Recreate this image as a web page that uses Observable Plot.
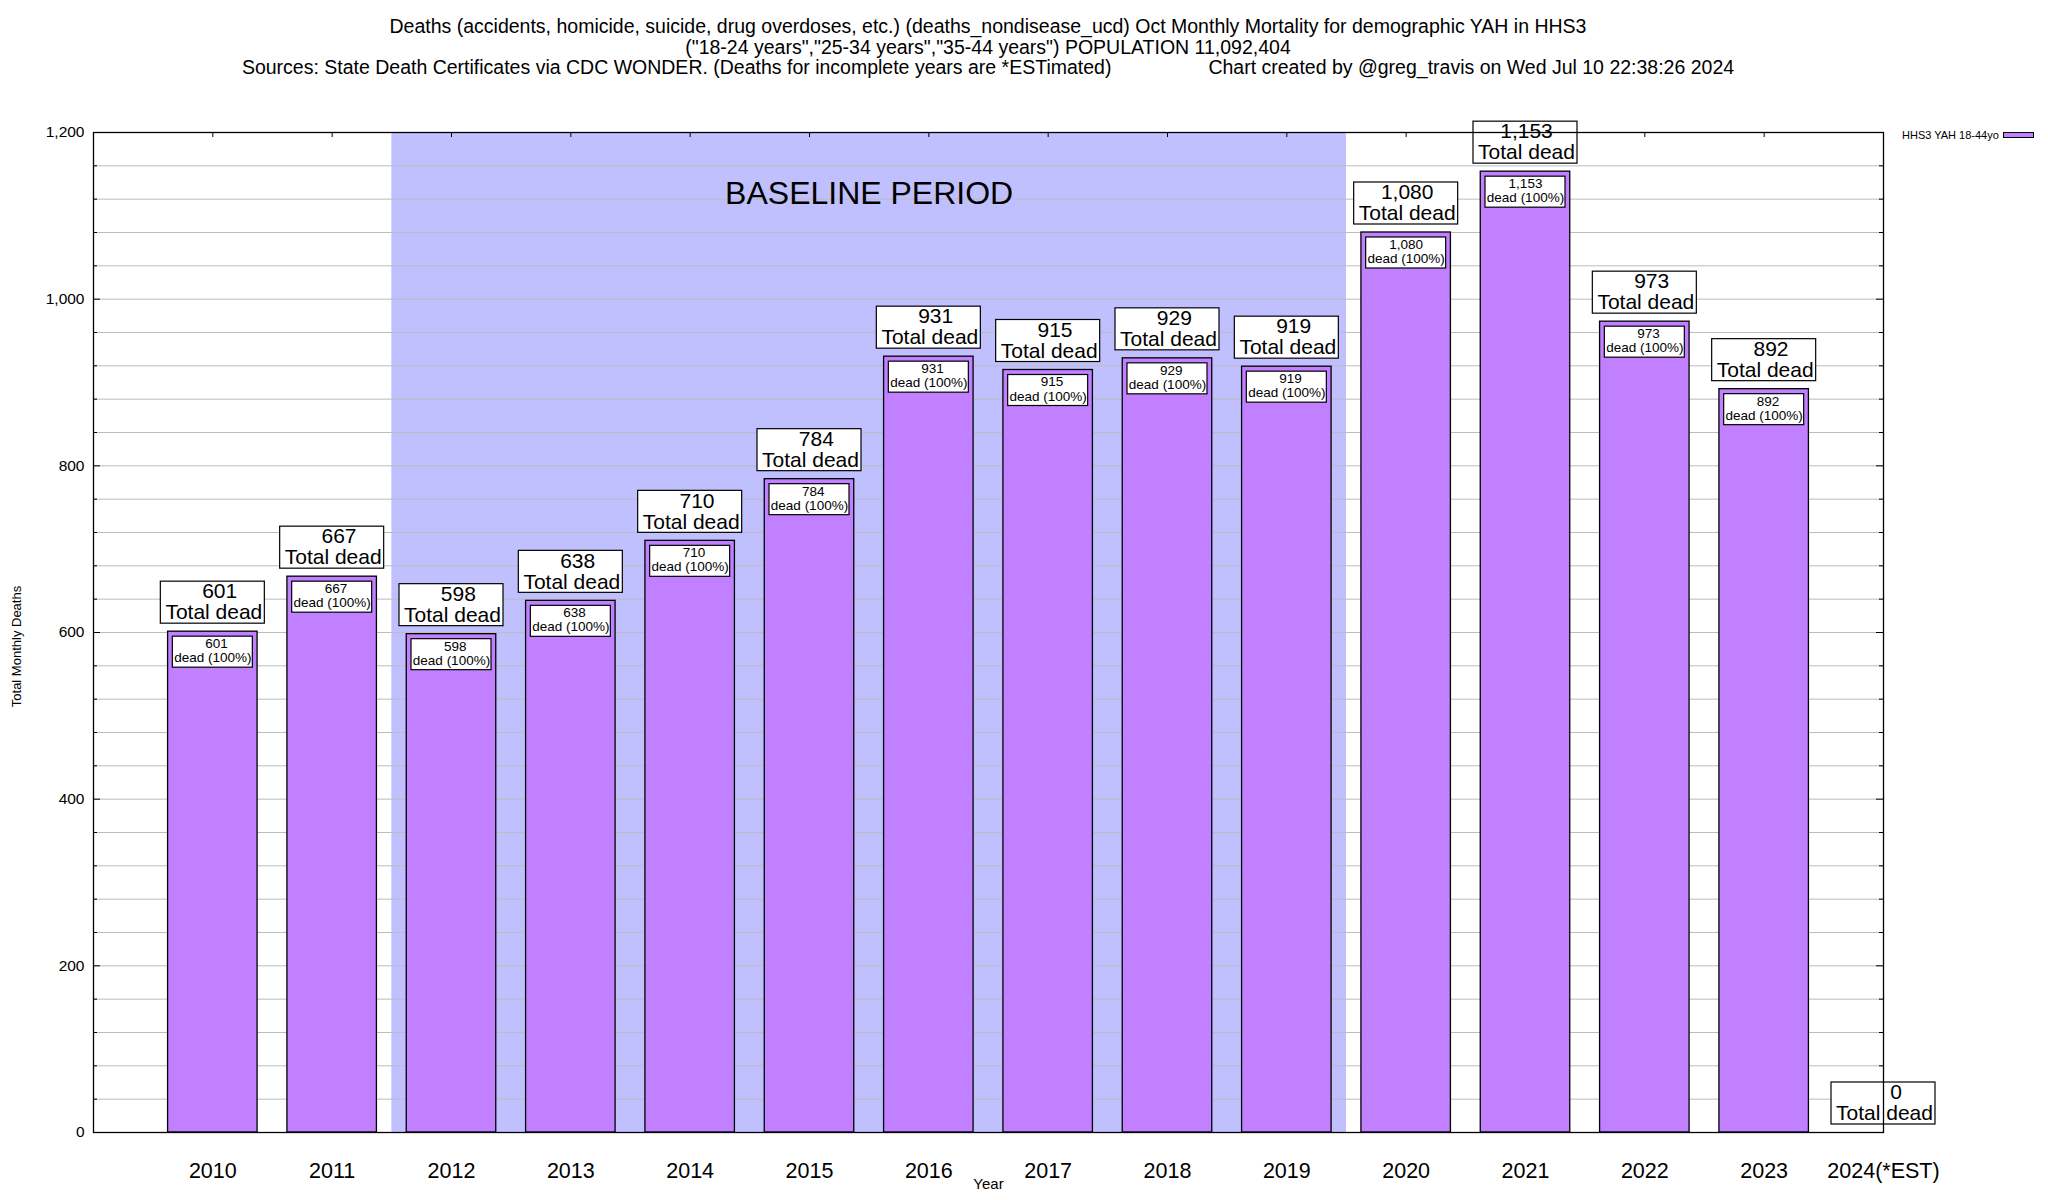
<!DOCTYPE html>
<html>
<head>
<meta charset="utf-8">
<script src="https://cdn.jsdelivr.net/npm/d3@7"></script>
<script src="https://cdn.jsdelivr.net/npm/@observablehq/plot@0.6"></script>
<style>
  html, body { margin: 0; padding: 0; background: white; }
  body { width: 2048px; height: 1200px; position: relative; overflow: hidden; font-family: "Liberation Sans", Arial, sans-serif; color: black; }
  #title { position: absolute; left: 0; top: 0; width: 1976px; height: 80px; box-sizing: border-box; padding-top: 16px; text-align: center; font-size: 19.5px; line-height: 20.5px; white-space: pre; }
  #chart { position: absolute; left: 0; top: 80px; }
  #chart svg text { white-space: pre; }
  #legend { position: absolute; top: 129px; left: 1902px; font-size: 11px; display: flex; align-items: center; white-space: nowrap; }
  #legend .sw { display: inline-block; width: 29px; height: 4px; border: 1px solid black; background: #c080ff; margin-left: 4px; }
</style>
</head>
<body>
<div id="title"></div>
<div id="chart"></div>
<div id="legend"></div>
<script>
// ---- data ----
const years = [2010, 2011, 2012, 2013, 2014, 2015, 2016, 2017, 2018, 2019, 2020, 2021, 2022, 2023, 2024];
const deaths = [601, 667, 598, 638, 710, 784, 931, 915, 929, 919, 1080, 1153, 973, 892, 0];
const yearLabels = ["2010", "2011", "2012", "2013", "2014", "2015", "2016", "2017", "2018", "2019", "2020", "2021", "2022", "2023", "2024(*EST)"];
const baselineYears = [2012, 2019];
const yTicks = [0, 200, 400, 600, 800, 1000, 1200];
const yMinorStep = 40;
const seriesName = "HHS3 YAH 18-44yo";
const titleLines = [
  "Deaths (accidents, homicide, suicide, drug overdoses, etc.) (deaths_nondisease_ucd) Oct Monthly Mortality for demographic YAH in HHS3",
  "(\"18-24 years\",\"25-34 years\",\"35-44 years\") POPULATION 11,092,404"
];
const sourceText = "Sources: State Death Certificates via CDC WONDER. (Deaths for incomplete years are *ESTimated)";
const creditText = "Chart created by @greg_travis on Wed Jul 10 22:38:26 2024";
const yLabel = "Total Monthly Deaths";
const xLabel = "Year";
const baselineLabel = "BASELINE PERIOD";

// ---- build ----
const fmt = d3.format(",");
const table = years.map((y, i) => ({year: y, value: deaths[i], label: yearLabels[i]}));
const bars = table.filter(d => d.value > 0);
const grid = d3.range(yMinorStep, 1200, yMinorStep);
const minor = grid.filter(v => !yTicks.includes(v));
const majorInner = yTicks.filter(v => v > 0 && v < 1200);

const titleEl = document.getElementById("title");
titleEl.innerHTML = "";
titleLines.forEach(t => { const d = document.createElement("div"); d.textContent = t; titleEl.appendChild(d); });
const l3 = document.createElement("div");
const s1 = document.createElement("span"); s1.textContent = sourceText;
const gap = document.createElement("span"); gap.style.display = "inline-block"; gap.style.width = "97px";
const s2 = document.createElement("span"); s2.textContent = creditText;
l3.append(s1, gap, s2);
titleEl.appendChild(l3);

const leg = document.getElementById("legend");
const lt = document.createElement("span"); lt.textContent = seriesName;
const sw = document.createElement("span"); sw.className = "sw";
leg.append(lt, sw);

const xMin = years[0] - 1, xMax = years[years.length - 1];

const plot = Plot.plot({
  width: 2048,
  height: 1120,
  marginTop: 52,
  marginBottom: 68,
  marginLeft: 93,
  marginRight: 165,
  x: {domain: [xMin, xMax], axis: null},
  y: {domain: [0, 1200], axis: null},
  style: {fontFamily: "'Liberation Sans', Arial, sans-serif", background: "white", overflow: "visible", color: "black"},
  marks: [
    // baseline shading
    Plot.rect([baselineYears], {x1: d => d[0] - 0.5, x2: d => d[1] + 0.5, y1: 0, y2: 1200, fill: "#c0c0ff"}),
    // grid
    Plot.ruleY(grid, {stroke: "#bdbdbd", strokeWidth: 1}),
    // y ticks (inward, both sides)
    Plot.ruleY(minor, {x1: xMin, x2: xMin, insetRight: -4, stroke: "black"}),
    Plot.ruleY(minor, {x1: xMax, x2: xMax, insetLeft: -4, stroke: "black"}),
    Plot.ruleY(majorInner, {x1: xMin, x2: xMin, insetRight: -7, stroke: "black"}),
    Plot.ruleY(majorInner, {x1: xMax, x2: xMax, insetLeft: -7, stroke: "black"}),
    // x ticks on top border
    Plot.ruleX(years, {x: d => d, y1: 1200, y2: 1200, insetBottom: -5, stroke: "black"}),
    // bars
    Plot.rect(bars, {x1: d => d.year - 0.375, x2: d => d.year + 0.375, y1: 0, y2: "value", fill: "#c080ff", stroke: "black", strokeWidth: 1.3}),
    // inner labels
    Plot.rect(bars, {x1: "year", x2: "year", y1: "value", y2: "value", insetLeft: -40, insetRight: -40, insetTop: 5, insetBottom: -36, fill: "white", stroke: "black", strokeWidth: 1.2}),
    Plot.text(bars, {x: "year", y: "value", text: d => fmt(d.value).padStart(5) + "\ndead (100%)", dy: 19, fontSize: 13.5, lineHeight: 1.04, lineAnchor: "middle"}),
    // outer labels
    Plot.rect(table, {x1: "year", x2: "year", y1: "value", y2: "value", insetLeft: -52, insetRight: -52, insetTop: -50, insetBottom: 8, fill: "white", stroke: "black", strokeWidth: 1.2}),
    Plot.text(table, {x: "year", y: "value", text: d => fmt(d.value).padStart(5) + "\nTotal dead", dy: -29.5, dx: 1, fontSize: 21, lineHeight: 1.0, lineAnchor: "middle"}),
    // baseline label
    Plot.text([baselineYears], {x: d => (d[0] + d[1]) / 2, frameAnchor: "top", dy: 61, text: () => baselineLabel, fontSize: 32, lineAnchor: "middle"}),
    // frame
    Plot.frame({stroke: "black", strokeWidth: 1.3}),
    // axes
    Plot.axisY({ticks: yTicks, tickFormat: d => fmt(d), tickSize: 0, tickPadding: 9, fontSize: 15.5, label: null}),
    Plot.axisX({ticks: years, tickFormat: d => yearLabels[years.indexOf(d)], tickSize: 0, tickPadding: 30, fontSize: 21.5, label: null}),
    Plot.text([yLabel], {frameAnchor: "left", textAnchor: "middle", dx: -77, dy: 14, rotate: -90, fontSize: 13, text: d => d}),
    Plot.text([xLabel], {frameAnchor: "bottom", dy: 56, fontSize: 15, text: d => d})
  ]
});
plot.setAttributeNS("http://www.w3.org/XML/1998/namespace", "xml:space", "preserve");
document.getElementById("chart").appendChild(plot);
</script>
</body>
</html>
